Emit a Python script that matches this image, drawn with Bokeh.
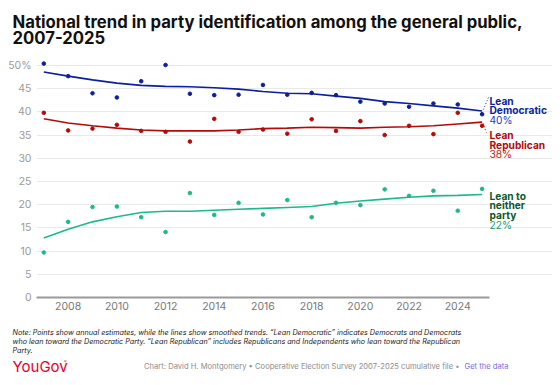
from bokeh.plotting import figure
from bokeh.models import Label, Range1d, FixedTicker, ColumnDataSource
from bokeh.layouts import column
from bokeh.embed import file_html
from bokeh.resources import INLINE

years = list(range(2007, 2026))
dem_pts = [50.4, 47.7, 44.0, 43.1, 46.6, 50.1, 43.9, 43.6, 43.7, 45.8,
           43.7, 44.1, 43.6, 42.2, 41.8, 41.1, 41.8, 41.6, 39.5]
rep_pts = [39.8, 36.0, 36.4, 37.2, 35.9, 35.7, 33.6, 38.5, 35.7, 36.2,
           35.3, 38.4, 35.9, 38.0, 35.0, 37.0, 35.2, 39.8, 37.0]
nei_pts = [9.7, 16.3, 19.5, 19.6, 17.3, 14.1, 22.5, 17.8, 20.4, 17.9,
           21.0, 17.3, 20.4, 19.9, 23.3, 21.9, 23.0, 18.7, 23.4]
dem_trend = [48.6, 47.7, 46.9, 46.2, 45.7, 45.5, 45.4, 45.2, 44.9, 44.4,
             44.0, 43.9, 43.4, 42.9, 42.2, 41.8, 41.3, 40.8, 40.2]
rep_trend = [38.5, 37.6, 37.0, 36.5, 36.1, 35.9, 35.9, 35.9, 36.1, 36.4,
             36.5, 36.7, 36.6, 36.5, 36.7, 36.8, 37.0, 37.4, 37.8]
nei_trend = [12.8, 14.7, 16.3, 17.4, 18.3, 18.6, 18.6, 18.8, 19.0, 19.2,
             19.4, 19.6, 20.3, 20.8, 21.2, 21.6, 21.9, 22.0, 22.2]
y_ticks = [0, 5, 10, 15, 20, 25, 30, 35, 40, 45, 50]
x_ticks = [2008, 2010, 2012, 2014, 2016, 2018, 2020, 2022, 2024]
series_names = [["Lean", "Democratic"], ["Lean", "Republican"], ["Lean to", "neither", "party"]]

title_lines = ["National trend in party identification among the general public,", "2007-2025"]
note_lines = ["Note: Points show annual estimates, while the lines show smoothed trends. \u201cLean Democratic\u201d indicates Democrats and Democrats",
              "who lean toward the Democratic Party. \u201cLean Republican\u201d includes Republicans and Independents who lean toward the Republican",
              "Party."]
credit = "Chart: David H. Montgomery \u2022 Cooperative Election Survey 2007-2025 cumulative file \u2022"
link = "Get the data"

DEM = "#0d1f9c"
REP = "#b40a0a"
NEI = "#1bb98c"
NEI_DARK = "#0b5a2c"
FONT = "Inter"
W = 552


def no_align(f):
    try:
        f.frame_align = False
    except Exception:
        pass
    return f


def text_fig(h, y_top):
    f = figure(width=W, height=h, output_backend="svg", toolbar_location=None,
               title=None,
               x_range=Range1d(0, W), y_range=Range1d(y_top + h, y_top),
               x_axis_location=None, y_axis_location=None,
               min_border=0)
    f.outline_line_color = None
    f.grid.grid_line_color = None
    return no_align(f)


# ---- title figure (page rows 0..50)
ft = text_fig(50, 0)
for i, ln in enumerate(title_lines):
    ft.add_layout(Label(x=12, y=21.5 + i * 15.2, text=ln, text_font=FONT,
                        text_font_style="bold", text_font_size="16.7px",
                        text_color="#111111", text_baseline="middle"))

# ---- chart figure (page rows 50..318)
LEFT = 36
FRAME_W = W - LEFT
PXX = 24.35            # px per year
X0 = 2006.70
X1 = X0 + FRAME_W / PXX
GRID_END = 2025.32
p = figure(width=W, height=268, output_backend="svg", toolbar_location=None,
           title=None,
           x_range=Range1d(X0, X1), y_range=Range1d(0, 51.5),
           min_border_left=LEFT, min_border_right=0, min_border_top=8,
           min_border_bottom=21)
no_align(p)
p.outline_line_color = None
p.xgrid.grid_line_color = None
p.ygrid.grid_line_color = "#e9e9e9"
p.ygrid.ticker = FixedTicker(ticks=y_ticks)
p.ygrid.bounds = (X0, GRID_END)

for ax in (p.xaxis, p.yaxis):
    ax.major_tick_out = 0
    ax.major_tick_in = 0
    ax.minor_tick_out = 0
    ax.minor_tick_in = 0
    ax.major_tick_line_color = None
    ax.minor_tick_line_color = None
    ax.major_label_text_font = FONT
    ax.major_label_text_font_size = "10.5px"

p.yaxis.ticker = FixedTicker(ticks=y_ticks)
p.yaxis.major_label_overrides = {50: "50%"}
p.yaxis.axis_line_color = None
p.yaxis.major_label_text_color = "#9a9a9a"
p.yaxis.major_label_standoff = 5

p.xaxis.ticker = FixedTicker(ticks=x_ticks)
p.xaxis.bounds = (X0, GRID_END)
p.xaxis.axis_line_color = "#9a9a9a"
p.xaxis.axis_line_width = 2
p.xaxis.major_label_text_color = "#777777"
p.xaxis.major_label_standoff = 4

src = ColumnDataSource(dict(x=years, dp=dem_pts, rp=rep_pts, np_=nei_pts,
                            dt=dem_trend, rt=rep_trend, nt=nei_trend))
for t, pcol, c in [("dt", "dp", DEM), ("rt", "rp", REP), ("nt", "np_", NEI)]:
    p.line("x", t, source=src, line_color=c, line_width=1.6)
    p.scatter("x", pcol, source=src, size=3.6, fill_color=c, line_color=c)

PXY = 239 / 51.5      # px per percentage point
LAB_X = X0 + (489 - LEFT) / PXX


def end_label(lines, center_px, step, bold_color, val_color, val_text):
    for i, ln in enumerate(lines + [val_text]):
        yv = (297 - (center_px + i * step)) / PXY
        bold = i < len(lines)
        p.add_layout(Label(x=LAB_X, y=yv, text=ln, text_font=FONT,
                           text_font_style="bold" if bold else "normal",
                           text_font_size="10.2px",
                           text_color=bold_color if bold else val_color,
                           text_baseline="middle"))


end_label(series_names[0], 100.3, 9.4, DEM, "#2a3ab8", f"{round(dem_trend[-1])}%")
end_label(series_names[1], 134.7, 9.6, REP, "#c41a1a", f"{round(rep_trend[-1])}%")
end_label(series_names[2], 195.0, 9.9, NEI_DARK, "#1a9a6e", f"{round(nei_trend[-1])}%")

# dotted leader lines from the trend ends to their labels
p.segment(x0=[years[-1] + 0.05], y0=[dem_trend[-1] + 0.3],
          x1=[years[-1] + 6.4 / PXX], y1=[dem_trend[-1] + 13.5 / PXY],
          line_color=DEM, line_dash="1 2", line_width=1)
p.segment(x0=[years[-1] + 0.05], y0=[rep_trend[-1] - 0.3],
          x1=[years[-1] + 4.2 / PXX], y1=[rep_trend[-1] - 10.5 / PXY],
          line_color=REP, line_dash="1 2", line_width=1)

# ---- notes / footer figure (page rows 318..377)
fb = text_fig(59, 318)
for i, ln in enumerate(note_lines):
    fb.add_layout(Label(x=12, y=331.5 + i * 9.2, text=ln, text_font=FONT,
                        text_font_style="italic", text_font_size="7.2px",
                        text_color="#1a1a1a", text_baseline="middle"))
fb.add_layout(Label(x=12, y=366, text="YouGov", text_font=FONT,
                    text_font_size="15px", text_color="#e4002b",
                    text_baseline="middle"))
fb.add_layout(Label(x=63.5, y=361, text="\u00ae", text_font=FONT,
                    text_font_size="4px", text_color="#e4002b",
                    text_baseline="middle"))
fb.add_layout(Label(x=459, y=365.5, text=credit, text_font=FONT,
                    text_font_size="7.6px", text_color="#8c8c8c",
                    text_align="right", text_baseline="middle"))
fb.add_layout(Label(x=464, y=365.5, text=link, text_font=FONT,
                    text_font_size="7.6px", text_color="#7b6be0",
                    text_align="left", text_baseline="middle"))

layout = column(ft, p, fb, spacing=0)
open("out.html", "w").write(file_html(layout, INLINE))
